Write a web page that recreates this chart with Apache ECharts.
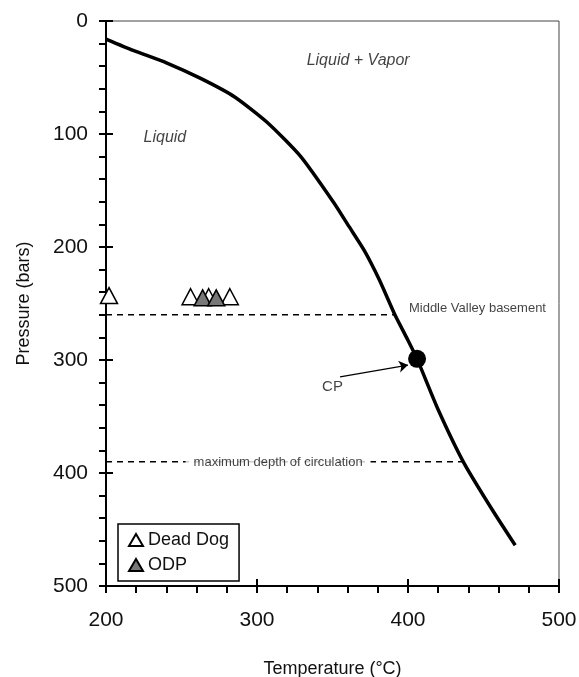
<!DOCTYPE html>
<html>
<head>
<meta charset="utf-8">
<script src="https://cdn.jsdelivr.net/npm/echarts@6/dist/echarts.min.js"></script>
<style>
  html, body { margin: 0; padding: 0; background: #fff; }
  #chart { width: 579px; height: 677px; }
</style>
</head>
<body>
<div id="chart"></div>
<script>
// boiling curve of seawater (temperature °C, pressure bars)
const curveT = [200, 218, 240, 263, 285, 307, 329, 351, 361, 371, 381, 391, 399, 406, 420, 437, 456, 471]
const curveP = [16, 26, 37, 51, 67, 90, 120, 161, 182, 203, 229, 259, 280, 299, 344, 391, 433, 464]

const deadDog = [[202, 243], [256, 244], [268, 244], [282, 244]]
const odp = [[264, 245], [273, 245]]
const criticalPoint = [406, 299]

const basementP = 260
const basementEndT = 391
const maxDepthP = 390
const maxDepthEndT = 437

const font = 'Arial, "Liberation Sans", sans-serif'

const curveData = curveT.map((t, i) => [t, curveP[i]])

// text annotations: [T, P, text, style, size]
const notes = [
  [239, 103, 'Liquid', 'italic', 16],
  [367, 35, 'Liquid + Vapor', 'italic', 16],
  [446, 254, 'Middle Valley basement', 'normal', 13],
  [314, 391, 'maximum depth of circulation', 'normal', 13],
  [350, 324, 'CP', 'normal', 15],
]

let myChart = echarts.init(document.getElementById('chart'))
myChart.setOption({
  animation: false,
  grid: {
    left: 106, right: 20, top: 21, bottom: 91,
    outerBoundsMode: 'none',
    show: true, borderColor: '#444', borderWidth: 1,
  },
  legend: {
    data: ['Dead Dog', 'ODP'],
    orient: 'vertical',
    left: 118, top: 524,
    width: 116,
    padding: [7, 10],
    itemGap: 7,
    itemWidth: 14, itemHeight: 12,
    borderColor: '#000', borderWidth: 1.5,
    textStyle: { fontFamily: font, fontSize: 18, color: '#111' },
  },
  xAxis: [
    {
      type: 'value', min: 200, max: 500, interval: 100, position: 'bottom',
      name: 'Temperature (°C)', nameLocation: 'middle', nameGap: 74,
      nameTextStyle: { fontFamily: font, fontSize: 18, color: '#111' },
      axisLine: { onZero: false, lineStyle: { color: '#000', width: 2 } },
      axisTick: { length: 7, lineStyle: { color: '#000', width: 2 } },
      minorTick: { show: true, splitNumber: 5, length: 7, lineStyle: { color: '#000', width: 2 } },
      axisLabel: { fontFamily: font, fontSize: 21, color: '#111', margin: 24 },
      splitLine: { show: false },
    },
    {
      type: 'value', min: 200, max: 500, interval: 100, position: 'bottom',
      axisLine: { show: false, onZero: false },
      axisTick: { inside: true, length: 7, lineStyle: { color: '#000', width: 2 } },
      axisLabel: { show: false },
      splitLine: { show: false },
    },
  ],
  yAxis: [
    {
      type: 'value', min: 0, max: 500, interval: 100, inverse: true, position: 'left',
      name: 'Pressure (bars)', nameLocation: 'middle', nameGap: 73,
      nameTextStyle: { fontFamily: font, fontSize: 18, color: '#111' },
      axisLine: { onZero: false, lineStyle: { color: '#000', width: 2 } },
      axisTick: { length: 7, lineStyle: { color: '#000', width: 2 } },
      minorTick: { show: true, splitNumber: 5, length: 7, lineStyle: { color: '#000', width: 2 } },
      axisLabel: { fontFamily: font, fontSize: 21, color: '#111', margin: 18 },
      splitLine: { show: false },
    },
    {
      type: 'value', min: 0, max: 500, interval: 100, inverse: true, position: 'left',
      axisLine: { show: false, onZero: false },
      axisTick: { inside: true, length: 7, lineStyle: { color: '#000', width: 2 } },
      axisLabel: { show: false },
      splitLine: { show: false },
    },
  ],
  series: [
    {
      name: 'curve',
      type: 'line',
      data: curveData,
      smooth: 0.2,
      showSymbol: false,
      lineStyle: { color: '#000', width: 3.5 },
      z: 3,
    },
    {
      name: 'basement',
      type: 'line',
      data: [[200, basementP], [basementEndT, basementP]],
      showSymbol: false,
      lineStyle: { color: '#000', width: 1.5, type: [6, 5] },
    },
    {
      name: 'maxdepth',
      type: 'line',
      data: [[200, maxDepthP], [maxDepthEndT, maxDepthP]],
      showSymbol: false,
      lineStyle: { color: '#000', width: 1.5, type: [6, 5] },
    },
    {
      name: 'Dead Dog',
      type: 'scatter',
      symbol: 'triangle',
      symbolSize: [17, 16],
      data: deadDog,
      itemStyle: { color: '#fff', borderColor: '#000', borderWidth: 1.5, opacity: 1 },
      z: 4,
    },
    {
      name: 'ODP',
      type: 'scatter',
      symbol: 'triangle',
      symbolSize: [17, 16],
      data: odp,
      itemStyle: { color: '#777', borderColor: '#000', borderWidth: 1.5, opacity: 1 },
      z: 5,
    },
    {
      name: 'CP',
      type: 'scatter',
      symbol: 'circle',
      symbolSize: 18,
      data: [criticalPoint],
      itemStyle: { color: '#000', opacity: 1 },
      z: 6,
      markLine: {
        silent: true,
        symbol: ['none', 'arrow'],
        symbolSize: 9,
        label: { show: false },
        lineStyle: { color: '#000', width: 1.2, type: 'solid' },
        data: [[{ coord: [355, 315] }, { coord: [400, 304.5] }]],
      },
    },
    {
      name: 'notes',
      type: 'scatter',
      symbolSize: 0,
      silent: true,
      data: notes.map((n) => ({
        value: [n[0], n[1]],
        label: {
          show: true,
          position: 'inside',
          formatter: n[2],
          fontFamily: font,
          fontStyle: n[3],
          fontSize: n[4],
          color: '#111',
          backgroundColor: '#fff',
          padding: [0, 8],
        },
      })),
      z: 7,
    },
  ],
})
</script>
</body>
</html>
